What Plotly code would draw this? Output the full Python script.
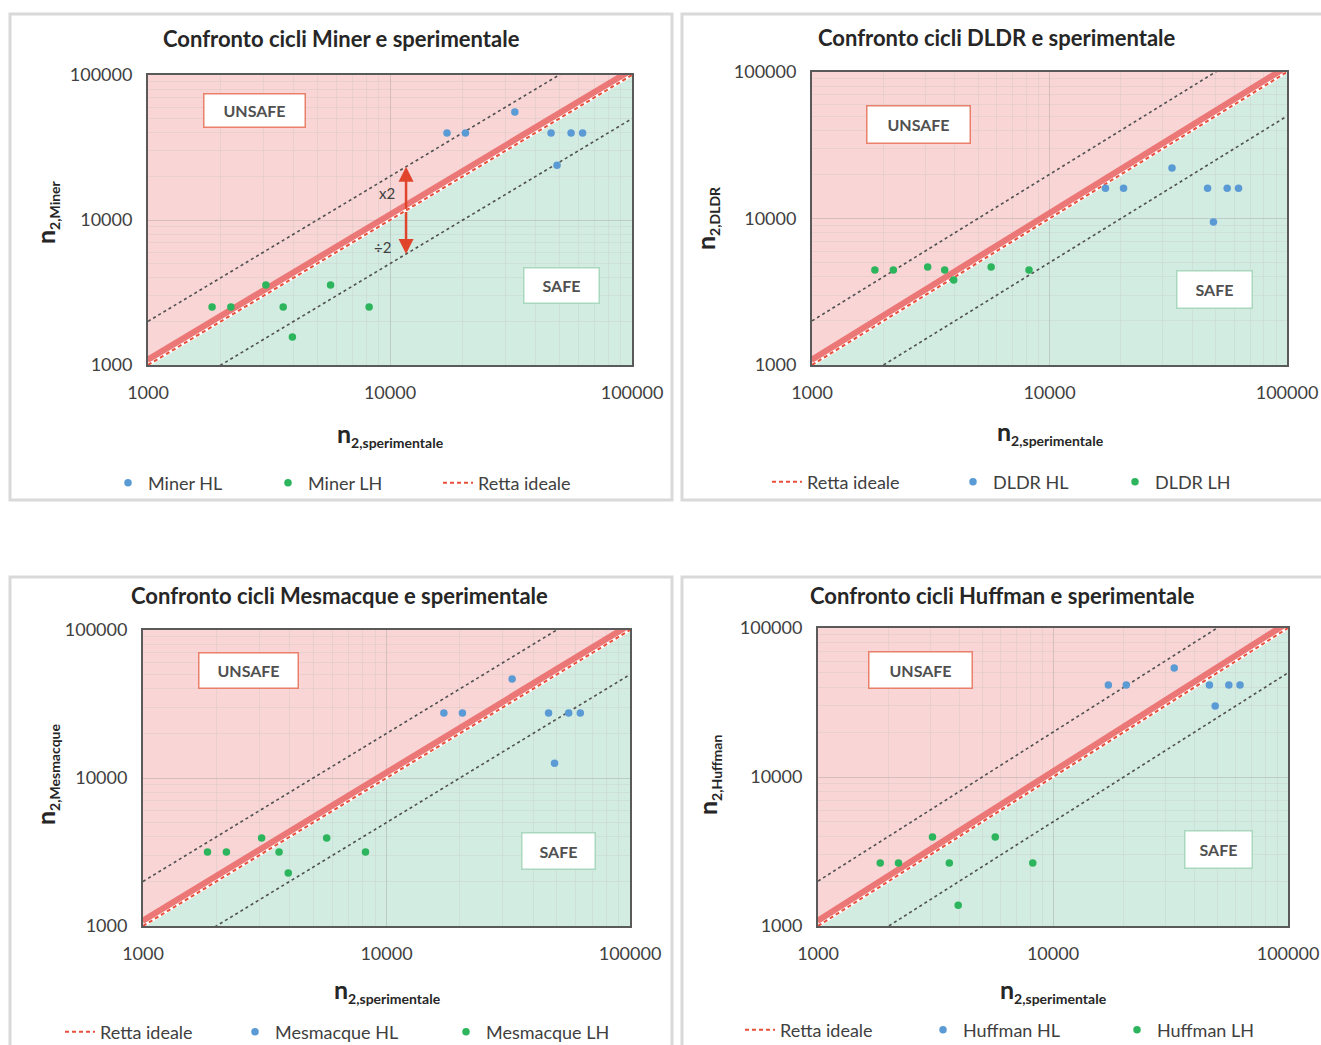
import plotly.graph_objects as go
import math

W, H = 1321, 1045

# ---------------- data ----------------
x_HL = [17200, 20500, 32800, 46300, 56000, 62500, 49000]   # n2,sperimentale  HL
x_LH = [1840, 2200, 3070, 3620, 3950, 5680, 8200]          # n2,sperimentale  LH

miner_HL = [39800, 39800, 55600, 39800, 39800, 39800, 23900]
miner_LH = [2510, 2510, 3560, 2510, 1560, 3560, 2510]
dldr_HL = [16100, 16100, 22100, 16100, 16100, 16100, 9460]
dldr_LH = [4450, 4450, 4670, 4450, 3800, 4670, 4450]
mesm_HL = [27500, 27500, 46700, 27500, 27500, 27500, 12600]
mesm_LH = [3160, 3160, 3930, 3160, 2280, 3930, 3160]
huff_HL = [41400, 41400, 53900, 41400, 41400, 41400, 30000]
huff_LH = [2650, 2650, 3950, 2650, 1380, 3950, 2650]

models = ["Miner", "DLDR", "Mesmacque", "Huffman"]
hl_vals = [miner_HL, dldr_HL, mesm_HL, huff_HL]
lh_vals = [miner_LH, dldr_LH, mesm_LH, huff_LH]

ideal_x = [1000, 100000]
tick_vals = [1000, 10000, 100000]
tick_text = ["1000", "10000", "100000"]
minor_vals = [2000, 3000, 4000, 5000, 6000, 7000, 8000, 9000,
              20000, 30000, 40000, 50000, 60000, 70000, 80000, 90000]

# ---------------- layout geometry (pixels) ----------------
panels = [
    dict(plot=(148, 632, 75, 365), frame=(10, 14, 672, 500), title=(342, 38),
         ytitle=(46, 212), xtitle=(390, 434), leg_y=483,
         leg_x=dict(HL=108, LH=268, R=438),
         unsafe=(254, 110, 98, 30), safe=(561, 286, 72, 32)),
    dict(plot=(812, 1287, 72, 365), frame=(682, 14, 1330, 500), title=(997, 37),
         ytitle=(706, 218), xtitle=(1050, 432), leg_y=482,
         leg_x=dict(R=767, HL=953, LH=1115),
         unsafe=(918, 125, 100, 34), safe=(1214, 289, 72, 34)),
    dict(plot=(143, 630, 630, 926), frame=(10, 577, 672, 1055), title=(339, 595),
         ytitle=(46, 775), xtitle=(388, 990), leg_y=1032,
         leg_x=dict(R=60, HL=235, LH=446),
         unsafe=(248, 670, 96, 32), safe=(558, 851, 70, 33)),
    dict(plot=(818, 1288, 628, 926), frame=(682, 577, 1330, 1055), title=(1002, 595),
         ytitle=(708, 775), xtitle=(1053, 990), leg_y=1030,
         leg_x=dict(R=740, HL=923, LH=1117),
         unsafe=(920, 670, 100, 33), safe=(1218, 849, 64, 34)),
]

FONT = "Lato"
TXT = "#404040"
PINK = "rgb(249,213,213)"
GREEN = "rgb(210,236,225)"
BLUE = "#5b9bd5"
GRN = "#2db55d"


def fx(px):
    return px / W


def fy(py):
    return 1 - py / H


fig = go.Figure()
shapes = []
annotations = []
layout_extra = {}
leg_count = [0]


def new_legend(px, py):
    leg_count[0] += 1
    n = leg_count[0]
    key = "legend" if n == 1 else "legend" + str(n)
    layout_extra[key] = dict(x=fx(px), y=fy(py), xanchor="left", yanchor="middle",
                             orientation="h", bgcolor="rgba(0,0,0,0)",
                             font=dict(family=FONT, size=18, color=TXT))
    return key


def paper_text(text, px, py, size, angle=0, color="#262626"):
    annotations.append(dict(text=text, x=fx(px), y=fy(py), xref="paper", yref="paper",
                            xanchor="center", yanchor="middle", showarrow=False,
                            textangle=angle, font=dict(family=FONT, size=size, color=color)))


for i, (p, name, hl, lh) in enumerate(zip(panels, models, hl_vals, lh_vals)):
    k = "" if i == 0 else str(i + 1)
    xa, ya = "x" + k, "y" + k
    x0, x1, yt, yb = p["plot"]

    common = dict(type="log", range=[3, 5], tickvals=tick_vals, ticktext=tick_text,
                  showline=True, linecolor="#5a5a5a", linewidth=2, mirror=True,
                  showgrid=True, gridcolor="rgba(150,150,150,0.35)", gridwidth=1,
                  zeroline=False, ticks="outside", ticklen=10, tickcolor="rgba(0,0,0,0)",
                  tickfont=dict(family=FONT, size=18, color=TXT),
                  minor=dict(tickvals=minor_vals, showgrid=True,
                             gridcolor="rgba(190,190,190,0.25)", gridwidth=1, ticks=""),
                  fixedrange=True)
    layout_extra["xaxis" + k] = dict(common, domain=[fx(x0), fx(x1)], anchor=ya)
    layout_extra["yaxis" + k] = dict(common, domain=[fy(yb), fy(yt)], anchor=xa)

    shapes.append(dict(type="path", path="M0,0 L1,1 L0,1 Z", xref=xa + " domain",
                       yref=ya + " domain", fillcolor=PINK, line=dict(width=0), layer="below"))
    shapes.append(dict(type="path", path="M0,0 L1,1 L1,0 Z", xref=xa + " domain",
                       yref=ya + " domain", fillcolor=GREEN, line=dict(width=0), layer="below"))

    fig.add_trace(go.Scatter(x=ideal_x, y=[v * 2 for v in ideal_x], xaxis=xa, yaxis=ya,
                             mode="lines", line=dict(color="#505050", width=1.6, dash="dot"),
                             showlegend=False, hoverinfo="skip"))
    fig.add_trace(go.Scatter(x=ideal_x, y=[v / 2 for v in ideal_x], xaxis=xa, yaxis=ya,
                             mode="lines", line=dict(color="#505050", width=1.6, dash="dot"),
                             showlegend=False, hoverinfo="skip"))
    fig.add_trace(go.Scatter(x=ideal_x, y=[v * 1.07 for v in ideal_x], xaxis=xa, yaxis=ya,
                             mode="lines", line=dict(color="rgba(232,92,92,0.78)", width=8),
                             showlegend=False, hoverinfo="skip"))
    fig.add_trace(go.Scatter(x=ideal_x, y=ideal_x, xaxis=xa, yaxis=ya,
                             mode="lines", line=dict(color="white", width=3),
                             showlegend=False, hoverinfo="skip"))

    lx = p["leg_x"]
    ly = p["leg_y"]
    fig.add_trace(go.Scatter(x=ideal_x, y=ideal_x, xaxis=xa, yaxis=ya, name="Retta ideale",
                             mode="lines", line=dict(color="#e8503c", width=2, dash="4px,3px"),
                             legend=new_legend(lx["R"], ly), hoverinfo="skip"))
    fig.add_trace(go.Scatter(x=x_HL, y=hl, xaxis=xa, yaxis=ya, name=name + " HL",
                             mode="markers", marker=dict(color=BLUE, size=7.5),
                             legend=new_legend(lx["HL"], ly)))
    fig.add_trace(go.Scatter(x=x_LH, y=lh, xaxis=xa, yaxis=ya, name=name + " LH",
                             mode="markers", marker=dict(color=GRN, size=7.5),
                             legend=new_legend(lx["LH"], ly)))

    fx0, fy0, fx1, fy1 = p["frame"]
    shapes.append(dict(type="rect", xref="paper", yref="paper", x0=fx(fx0), x1=fx(fx1),
                       y0=fy(fy1), y1=fy(fy0), line=dict(color="#d9d9d9", width=3),
                       fillcolor="rgba(0,0,0,0)", layer="below"))

    tx, ty = p["title"]
    paper_text("<b>Confronto cicli " + name + " e sperimentale</b>", tx, ty, 22)
    sub = '<sub><span style="font-size:14px">%s</span></sub>'
    ytx, yty = p["ytitle"]
    paper_text("<b>n" + sub % ("2," + name) + "</b>", ytx, yty, 25, angle=-90)
    xtx, xty = p["xtitle"]
    paper_text("<b>n" + sub % "2,sperimentale" + "</b>", xtx, xty, 25)

    ucx, ucy, uw, uh = p["unsafe"]
    annotations.append(dict(text="<b>UNSAFE</b>", x=fx(ucx), y=fy(ucy), xref="paper",
                            yref="paper", xanchor="center", yanchor="middle", showarrow=False,
                            bgcolor="white", bordercolor="#e8806a", borderwidth=1.5,
                            borderpad=1, width=uw, height=uh,
                            font=dict(family=FONT, size=16, color="#505050")))
    scx, scy, sw, sh = p["safe"]
    annotations.append(dict(text="<b>SAFE</b>", x=fx(scx), y=fy(scy), xref="paper",
                            yref="paper", xanchor="center", yanchor="middle", showarrow=False,
                            bgcolor="white", bordercolor="#a9d8be", borderwidth=1.5,
                            borderpad=1, width=sw, height=sh,
                            font=dict(family=FONT, size=16, color="#505050")))

# x2 / ÷2 arrow annotation on the Miner panel
xa_arrow = 11650
for fac in (2, 0.5):
    annotations.append(dict(x=math.log10(xa_arrow), y=math.log10(xa_arrow * fac),
                            ax=math.log10(xa_arrow), ay=math.log10(xa_arrow),
                            xref="x", yref="y", axref="x", ayref="y", text="",
                            showarrow=True, arrowhead=2, arrowsize=1.2, arrowwidth=2.5,
                            arrowcolor="#e0452b"))
annotations.append(dict(text="x2", x=math.log10(9700), y=math.log10(15300), xref="x", yref="y",
                        xanchor="center", yanchor="middle", showarrow=False,
                        font=dict(family=FONT, size=15, color="#404040")))
annotations.append(dict(text="÷2", x=math.log10(9300), y=math.log10(6500), xref="x", yref="y",
                        xanchor="center", yanchor="middle", showarrow=False,
                        font=dict(family=FONT, size=15, color="#404040")))

fig.update_layout(width=W, height=H, margin=dict(l=0, r=0, t=0, b=0, autoexpand=False),
                  paper_bgcolor="white", plot_bgcolor="rgba(0,0,0,0)",
                  shapes=shapes, annotations=annotations, **layout_extra)

fig.write_html("out.html", config={"displayModeBar": False},
               post_script="document.body.style.margin='0px';")
